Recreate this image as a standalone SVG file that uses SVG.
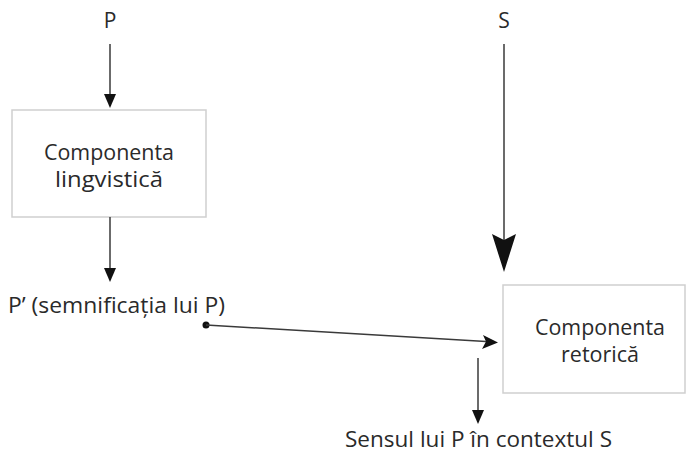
<svg xmlns="http://www.w3.org/2000/svg" width="686" height="454" viewBox="0 0 686 454">
<style>
text{font-family:"Open Sans","Liberation Sans",sans-serif;font-size:21px;fill:#2a2a2a;text-anchor:middle}
.box{fill:#fff;stroke:#cfcfcf;stroke-width:1.5}
.ln{stroke:#3a3a3a;stroke-width:1.5;fill:none}
.ah{fill:#111}
</style>
<rect width="686" height="454" fill="#fff"/>
<g id="P"><text x="110" y="28">P</text></g>
<g id="S"><text x="504" y="28">S</text></g>
<g id="lingvistica">
<rect class="box" x="12" y="110" width="194" height="107"/>
<text x="109" y="160" textLength="130" lengthAdjust="spacingAndGlyphs">Componenta</text>
<text x="109" y="187" textLength="108" lengthAdjust="spacingAndGlyphs">lingvistică</text>
</g>
<g id="Pprim"><text x="116.5" y="313" textLength="217" lengthAdjust="spacingAndGlyphs">P’ (semnificația lui P)</text></g>
<g id="retorica">
<rect class="box" x="503" y="285" width="182" height="108"/>
<text x="600" y="335" textLength="130" lengthAdjust="spacingAndGlyphs">Componenta</text>
<text x="600" y="362" textLength="78" lengthAdjust="spacingAndGlyphs">retorică</text>
</g>
<g id="sens"><text x="478.5" y="447" textLength="267" lengthAdjust="spacingAndGlyphs">Sensul lui P în contextul S</text></g>
<g id="connectors">
<line class="ln" x1="110" y1="44" x2="110" y2="96"/>
<polygon class="ah" points="104,94 116,94 110,108"/>
<line class="ln" x1="110" y1="217" x2="110" y2="270"/>
<polygon class="ah" points="104,268 116,268 110,282"/>
<line class="ln" x1="504" y1="44" x2="504" y2="240"/>
<polygon class="ah" points="492,234 504,240 516,234 504,272"/>
<circle class="ah" cx="206" cy="325" r="3.5"/>
<line class="ln" x1="206" y1="325" x2="486" y2="341.5"/>
<polygon class="ah" points="483,335 498,342.5 482,349 486,341.5"/>
<line class="ln" x1="478" y1="358" x2="478" y2="412"/>
<polygon class="ah" points="472,410 484,410 478,424"/>
</g>
</svg>
